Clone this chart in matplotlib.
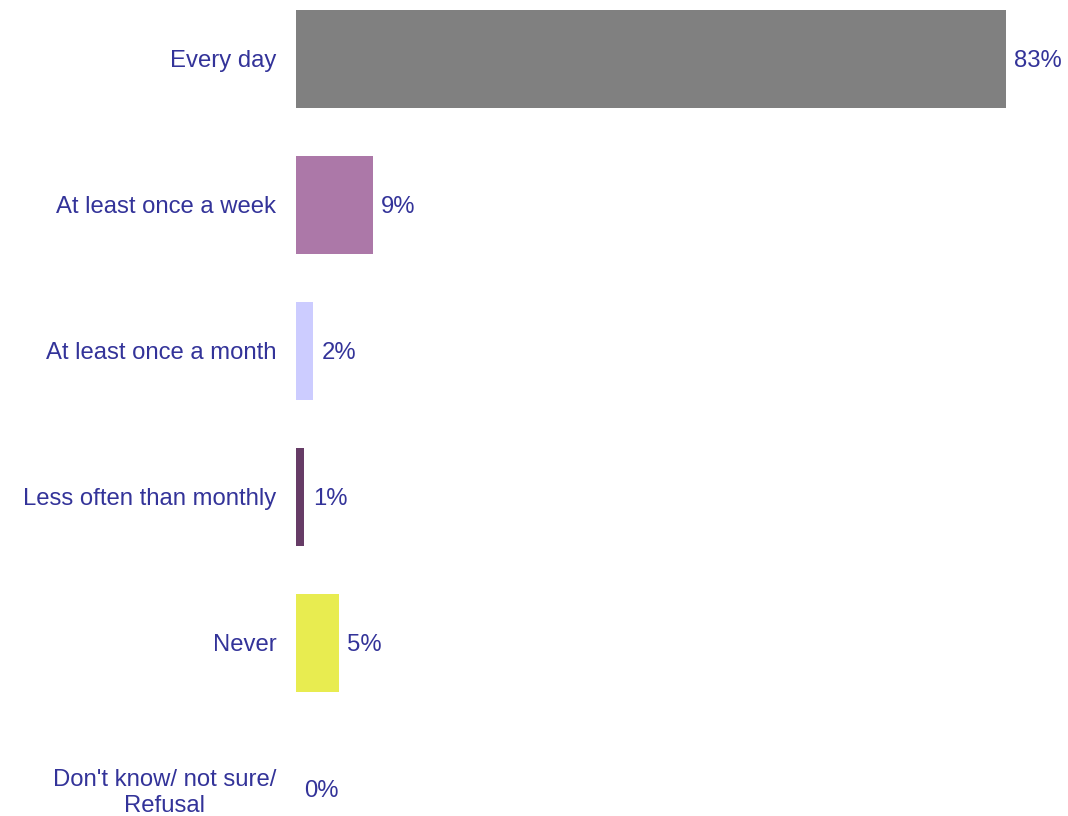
import matplotlib.pyplot as plt

categories = ['Every day', 'At least once a week', 'At least once a month',
              'Less often than monthly', 'Never', "Don't know/ not sure/\nRefusal"]
values = [83, 9, 2, 1, 5, 0]
colors = ['#808080', '#AC78A8', '#CCCCFF', '#663C66', '#E8EC50', '#808080']
text_color = '#333399'

plt.rcParams['font.family'] = ['Liberation Sans', 'DejaVu Sans']

fig = plt.figure(figsize=(10.68, 8.16), dpi=100)
ax = fig.add_axes([0.277, 0, 0.723, 1])

y = list(range(len(categories)))
ax.barh(y, values, height=0.665, color=colors)

# value labels just past the end of each bar
for yi, v in zip(y, values):
    ax.annotate(f'{v}%', (v, yi), xytext=(6, -1.5), textcoords='offset points',
                va='center', ha='left', fontsize=17.2, color=text_color)

ax.set_xlim(0, 90.3)
ax.set_ylim(5.185, -0.404)
ax.set_yticks(y)
ax.set_yticklabels(categories, fontsize=17.2, color=text_color,
                   ha='right', multialignment='center', linespacing=1.2)
ax.tick_params(axis='y', length=0, pad=14)
ax.set_xticks([])
for side in ax.spines.values():
    side.set_visible(False)

fig.savefig('out.png', dpi=100)
